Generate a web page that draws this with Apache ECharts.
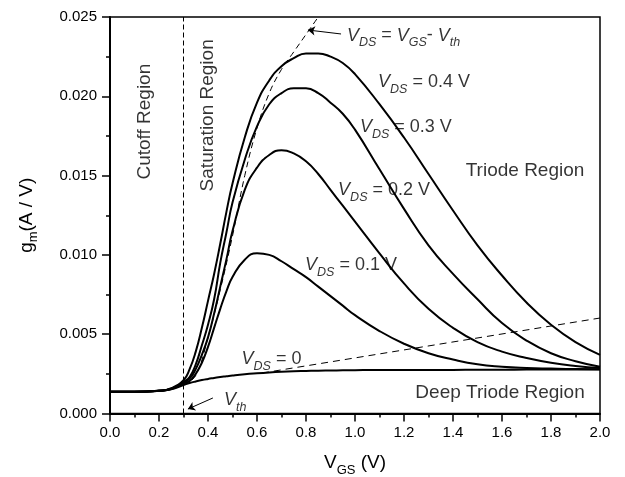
<!DOCTYPE html>
<html>
<head>
<meta charset="utf-8">
<script src="https://cdn.jsdelivr.net/npm/echarts@6/dist/echarts.min.js"></script>
<style>
html,body{margin:0;padding:0;background:#fff;}
#c{width:625px;height:477px;}
</style>
</head>
<body>
<div id="c"></div>
<script>
// ---- data ----
const vgs = [0, 0.1, 0.2, 0.25, 0.3, 0.325, 0.35, 0.375, 0.4, 0.425, 0.45, 0.475, 0.5, 0.55, 0.6, 0.65, 0.7, 0.75, 0.8, 0.85, 0.9, 0.95, 1.0, 1.1, 1.2, 1.3, 1.4, 1.5, 1.6, 1.7, 1.8, 1.9, 2.0];
const gmVds0  = [0.00137, 0.00137, 0.00143, 0.00152, 0.0018, 0.00192, 0.00202, 0.00211, 0.00218, 0.00224, 0.0023, 0.00235, 0.0024, 0.00248, 0.00254, 0.00259, 0.00263, 0.00266, 0.00268, 0.0027, 0.00271, 0.00272, 0.00273, 0.00274, 0.00274, 0.00275, 0.00275, 0.00276, 0.00276, 0.00277, 0.00277, 0.00278, 0.00278];
const gmVds01 = [0.00137, 0.00137, 0.00143, 0.00154, 0.0019, 0.00205, 0.0025, 0.0032, 0.0042, 0.0054, 0.0066, 0.0077, 0.0086, 0.0097, 0.0101, 0.0100, 0.0096, 0.0091, 0.0086, 0.0080, 0.0074, 0.0068, 0.0062, 0.0052, 0.0044, 0.0038, 0.0034, 0.0031, 0.00295, 0.00287, 0.00283, 0.0028, 0.00279];
const gmVds02 = [0.00137, 0.00137, 0.00143, 0.00155, 0.00195, 0.0022, 0.0028, 0.0037, 0.0048, 0.0063, 0.0080, 0.0097, 0.0115, 0.0141, 0.0155, 0.0163, 0.0166, 0.0164, 0.0159, 0.0151, 0.0141, 0.0131, 0.0121, 0.0101, 0.0082, 0.0066, 0.0054, 0.0045, 0.0039, 0.0035, 0.0032, 0.0030, 0.00287];
const gmVds03 = [0.00137, 0.00137, 0.00143, 0.00156, 0.0020, 0.0023, 0.0031, 0.0043, 0.0056, 0.0072, 0.0095, 0.0114, 0.0133, 0.0160, 0.0181, 0.0195, 0.0202, 0.0205, 0.0205, 0.0202, 0.0196, 0.0189, 0.0179, 0.0154, 0.0129, 0.0106, 0.0088, 0.0072, 0.0057, 0.0046, 0.0038, 0.0033, 0.00295];
const gmVds04 = [0.00137, 0.00137, 0.00143, 0.0016, 0.0021, 0.0028, 0.0039, 0.0054, 0.0071, 0.0088, 0.0107, 0.0127, 0.0145, 0.0174, 0.0196, 0.0210, 0.0219, 0.0224, 0.0227, 0.0227, 0.0225, 0.0221, 0.0214, 0.0195, 0.0174, 0.0151, 0.0128, 0.0106, 0.0087, 0.0070, 0.0056, 0.0045, 0.0037];
// boundary VDS = VGS - Vth (dashed)
const satVgs = [0.3, 0.35, 0.4, 0.45, 0.5, 0.55, 0.6, 0.65, 0.7, 0.75, 0.8, 0.85];
const satGm  = [0.0018, 0.0024, 0.0048, 0.0078, 0.0112, 0.0150, 0.0180, 0.0202, 0.0217, 0.0228, 0.0239, 0.0250];
// lower dashed line
const linVgs = [0.62, 2.0];
const linGm  = [0.00255, 0.00602];
// threshold voltage
const vth = 0.3;
// axis ranges / ticks
const xMin = 0, xMax = 2.0, xStep = 0.2;
const yMin = 0, yMax = 0.025, yStep = 0.005;

const pair = (xs, ys) => xs.map((x, i) => [x, ys[i]]);
const FONT = '"Liberation Sans", Arial, sans-serif';

const rich = {
  v: {fontFamily: FONT, fontStyle: 'italic', fontSize: 18, lineHeight: 20, verticalAlign: 'top', color: '#000'},
  t: {fontFamily: FONT, fontSize: 18, lineHeight: 20, verticalAlign: 'top', color: '#000'},
  r: {fontFamily: FONT, fontSize: 19, lineHeight: 20, verticalAlign: 'top', color: '#000'},
  s: {fontFamily: FONT, fontStyle: 'italic', fontSize: 12.5, lineHeight: 13, padding: [13, 0, 0, 0], color: '#000'}
};
const richAxis = {
  t: {fontFamily: FONT, fontSize: 19, lineHeight: 20, verticalAlign: 'top', color: '#000'},
  s: {fontFamily: FONT, fontSize: 13, lineHeight: 13, padding: [13, 0, 0, 0], color: '#000'}
};

const solid = (name, ys) => ({
  name, type: 'line', data: pair(vgs, ys), smooth: 0.5, symbol: 'none',
  lineStyle: {color: '#000', width: 2}, z: 5, silent: true
});

const annotations = [
  {value: [0.143, 0.0184], label: {formatter: '{r|Cutoff Region}', rotate: 90, position: 'inside'}},
  {value: [0.40, 0.0188], label: {formatter: '{r|Saturation Region}', rotate: 90, position: 'inside'}},
  {value: [1.694, 0.0153], label: {formatter: '{r|Triode Region}', position: 'inside'}},
  {value: [1.592, 0.00129], label: {formatter: '{r|Deep Triode Region}', position: 'inside'}},
  {value: [0.967, 0.02377], label: {formatter: '{v|V}{s|DS}{t| = }{v|V}{s|GS}{t|- }{v|V}{s|th}'}},
  {value: [1.094, 0.02084], label: {formatter: '{v|V}{s|DS}{t| = 0.4 V}'}},
  {value: [1.02, 0.0180], label: {formatter: '{v|V}{s|DS}{t| = 0.3 V}'}},
  {value: [0.931, 0.0140], label: {formatter: '{v|V}{s|DS}{t| = 0.2 V}'}},
  {value: [0.796, 0.00927], label: {formatter: '{v|V}{s|DS}{t| = 0.1 V}'}},
  {value: [0.537, 0.00337], label: {formatter: '{v|V}{s|DS}{t| = 0}'}},
  {value: [0.465, 0.00076], label: {formatter: '{v|V}{s|th}'}}
];

const chart = echarts.init(document.getElementById('c'), null, {renderer: 'canvas'});
chart.setOption({
  backgroundColor: '#fff',
  animation: false,
  grid: {left: 110, right: 25, top: 17, bottom: 63.5, show: true, borderColor: '#000', borderWidth: 1.5, backgroundColor: 'transparent', outerBoundsMode: 'none'},
  xAxis: {
    type: 'value', min: xMin, max: xMax, interval: xStep,
    name: '{t|V}{s|GS}{t| (V)}', nameLocation: 'middle', nameGap: 40, nameMoveOverlap: false,
    nameTextStyle: {rich: richAxis},
    axisLine: {show: true, onZero: false, lineStyle: {color: '#000', width: 2}},
    axisTick: {show: true, inside: false, length: 8, lineStyle: {color: '#000', width: 1.5}},
    minorTick: {show: true, splitNumber: 2, length: 4, lineStyle: {color: '#000', width: 1.5}},
    axisLabel: {color: '#000', fontFamily: FONT, fontSize: 15, margin: 12, formatter: v => v.toFixed(1)},
    splitLine: {show: false}, minorSplitLine: {show: false}
  },
  yAxis: {
    type: 'value', min: yMin, max: yMax, interval: yStep,
    name: '{t|g}{s|m}{t|(A / V)}', nameLocation: 'middle', nameGap: 73, nameMoveOverlap: false,
    nameTextStyle: {rich: richAxis},
    axisLine: {show: true, onZero: false, lineStyle: {color: '#000', width: 2}},
    axisTick: {show: true, inside: false, length: 8, lineStyle: {color: '#000', width: 1.5}},
    minorTick: {show: true, splitNumber: 2, length: 4, lineStyle: {color: '#000', width: 1.5}},
    axisLabel: {color: '#000', fontFamily: FONT, fontSize: 15, margin: 13, formatter: v => v.toFixed(3)},
    splitLine: {show: false}, minorSplitLine: {show: false}
  },
  series: [
    {type: 'line', data: [[vth, yMin], [vth, yMax]], symbol: 'none', silent: true,
     lineStyle: {color: '#000', width: 1, type: [5, 3]}, z: 3},
    {type: 'line', data: pair(satVgs, satGm), smooth: 0.4, symbol: 'none', silent: true,
     lineStyle: {color: '#000', width: 1, type: [6, 4]}, z: 3},
    {type: 'line', data: pair(linVgs, linGm), symbol: 'none', silent: true,
     lineStyle: {color: '#000', width: 1, type: [7, 5]}, z: 3},
    solid('VDS=0', gmVds0),
    solid('VDS=0.1', gmVds01),
    solid('VDS=0.2', gmVds02),
    solid('VDS=0.3', gmVds03),
    solid('VDS=0.4', gmVds04),
    {type: 'lines', coordinateSystem: 'cartesian2d', silent: true, z: 6,
     symbol: ['none', 'arrow'], symbolSize: 7,
     lineStyle: {color: '#000', width: 1, opacity: 1},
     data: [
       {coords: [[0.943, 0.02393], [0.808, 0.02418]]},
       {coords: [[0.42, 0.00098], [0.318, 0.00028]]}
     ]},
    {type: 'scatter', symbolSize: 0, silent: true, z: 7,
     label: {show: true, position: 'right', distance: 0, rich: rich, color: '#000'},
     data: annotations}
  ]
});
</script>
</body>
</html>
